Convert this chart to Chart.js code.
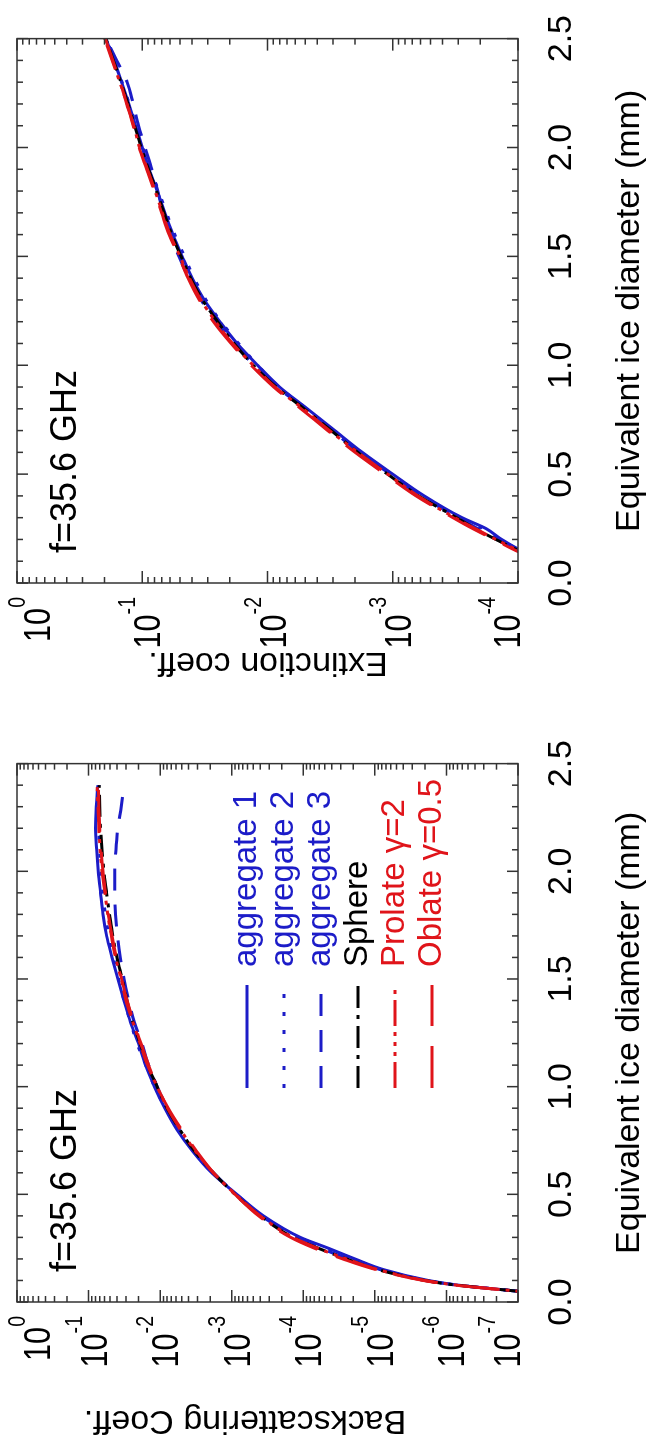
<!DOCTYPE html>
<html>
<head>
<meta charset="utf-8">
<script src="https://cdn.jsdelivr.net/npm/chart.js@4.4.1/dist/chart.umd.min.js"></script>
<style>
html, body { margin:0; padding:0; overflow:hidden; background:#fff; width:654px; height:1449px; }
#fig { position:absolute; left:0; top:1449px; width:1449px; height:654px; transform-origin:0 0; transform:rotate(-90deg); }
#fig canvas { position:absolute; top:0; }
#c1 { left:0; }
#c2 { left:724px; }
</style>
</head>
<body>
<div id="fig">
<canvas id="c1" width="724" height="654"></canvas>
<canvas id="c2" width="725" height="654"></canvas>
</div>
<script>
// diameters (mm)
const backD = [0.03, 0.05, 0.08, 0.1, 0.15, 0.2, 0.25, 0.3, 0.4, 0.5, 0.6, 0.7, 0.8, 0.9, 1.0, 1.1, 1.2, 1.3, 1.4, 1.5, 1.6, 1.7, 1.8, 1.9, 2.0, 2.1, 2.2, 2.3, 2.4];
const extD = [0.1, 0.15, 0.2, 0.25, 0.3, 0.4, 0.5, 0.6, 0.7, 0.8, 0.9, 1.0, 1.1, 1.2, 1.3, 1.4, 1.5, 1.6, 1.7, 1.8, 1.9, 2.0, 2.1, 2.2, 2.3, 2.4, 2.5];

// backscattering coeff.
const backAgg1 = [2.5e-8, 1.0e-7, 7.5e-7, 1.8e-6, 7.5e-6, 1.9e-5, 4.5e-5, 1.1e-4, 3.6e-4, 8.5e-4, 1.9e-3, 3.5e-3, 5.8e-3, 8.6e-3, 1.2e-2, 1.6e-2, 2.0e-2, 2.6e-2, 3.2e-2, 3.9e-2, 4.7e-2, 5.6e-2, 6.3e-2, 6.8e-2, 7.3e-2, 7.7e-2, 8.0e-2, 7.8e-2, 7.4e-2];
const backAgg2 = [2.5e-8, 1.0e-7, 7.8e-7, 1.9e-6, 8.0e-6, 2.2e-5, 5.5e-5, 1.25e-4, 3.8e-4, 8.7e-4, 1.85e-3, 3.4e-3, 5.6e-3, 8.4e-3, 1.2e-2, 1.6e-2, 2.1e-2, 2.6e-2, 3.2e-2, 3.8e-2, 4.5e-2, 5.2e-2, 5.8e-2, 6.3e-2, 6.7e-2, 7.0e-2, 7.2e-2, 7.2e-2, 7.1e-2];
const backAgg3 = [2.5e-8, 1.0e-7, 7.8e-7, 1.9e-6, 8.3e-6, 2.3e-5, 5.8e-5, 1.3e-4, 3.8e-4, 8.6e-4, 1.8e-3, 3.3e-3, 5.4e-3, 8.0e-3, 1.1e-2, 1.45e-2, 1.8e-2, 2.3e-2, 2.75e-2, 3.2e-2, 3.6e-2, 3.95e-2, 4.2e-2, 4.3e-2, 4.3e-2, 4.15e-2, 3.9e-2, 3.5e-2, 3.2e-2];
const backSphere = [2.5e-8, 1.0e-7, 8.0e-7, 2.0e-6, 9.0e-6, 2.5e-5, 6.2e-5, 1.4e-4, 4.0e-4, 9.0e-4, 1.8e-3, 3.3e-3, 5.3e-3, 8.0e-3, 1.1e-2, 1.5e-2, 1.9e-2, 2.4e-2, 2.9e-2, 3.4e-2, 4.0e-2, 4.6e-2, 5.1e-2, 5.6e-2, 6.1e-2, 6.5e-2, 6.8e-2, 7.0e-2, 7.1e-2];
const backProlate = [2.5e-8, 1.0e-7, 7.9e-7, 2.0e-6, 8.9e-6, 2.5e-5, 6.3e-5, 1.4e-4, 4.0e-4, 8.9e-4, 1.8e-3, 3.2e-3, 5.2e-3, 7.9e-3, 1.1e-2, 1.5e-2, 1.9e-2, 2.4e-2, 3.0e-2, 3.5e-2, 4.2e-2, 4.8e-2, 5.4e-2, 5.9e-2, 6.5e-2, 6.9e-2, 7.2e-2, 7.4e-2, 7.6e-2];
const backOblate = [2.6e-8, 1.05e-7, 8.2e-7, 2.1e-6, 9.5e-6, 2.8e-5, 7.0e-5, 1.5e-4, 4.2e-4, 9.0e-4, 1.8e-3, 3.1e-3, 5.0e-3, 7.7e-3, 1.1e-2, 1.45e-2, 1.85e-2, 2.35e-2, 2.9e-2, 3.45e-2, 4.1e-2, 4.7e-2, 5.3e-2, 5.8e-2, 6.3e-2, 6.7e-2, 7.0e-2, 7.2e-2, 7.3e-2];

// extinction coeff.
const extAgg1 = [6.0e-5, 9.5e-5, 1.35e-4, 1.8e-4, 2.8e-4, 5.6e-4, 1.0e-3, 1.75e-3, 2.9e-3, 4.8e-3, 8.0e-3, 1.2e-2, 1.75e-2, 2.4e-2, 3.2e-2, 4.0e-2, 4.8e-2, 5.7e-2, 6.6e-2, 7.6e-2, 8.8e-2, 1.0e-1, 1.13e-1, 1.28e-1, 1.46e-1, 1.68e-1, 1.95e-1];
const extAgg2 = [6.0e-5, 9.6e-5, 1.4e-4, 1.9e-4, 2.9e-4, 5.8e-4, 1.02e-3, 1.8e-3, 3.0e-3, 4.9e-3, 8.1e-3, 1.2e-2, 1.7e-2, 2.35e-2, 3.1e-2, 3.85e-2, 4.6e-2, 5.5e-2, 6.4e-2, 7.4e-2, 8.6e-2, 9.9e-2, 1.12e-1, 1.27e-1, 1.45e-1, 1.67e-1, 1.93e-1];
const extAgg3 = [6.1e-5, 9.8e-5, 1.45e-4, 2.1e-4, 3.0e-4, 6.0e-4, 1.05e-3, 1.85e-3, 3.05e-3, 5.0e-3, 8.4e-3, 1.28e-2, 1.85e-2, 2.55e-2, 3.4e-2, 4.25e-2, 5.1e-2, 6.0e-2, 6.8e-2, 7.5e-2, 8.4e-2, 9.5e-2, 1.07e-1, 1.18e-1, 1.32e-1, 1.6e-1, 1.95e-1];
const extSphere = [6.3e-5, 1.0e-4, 1.5e-4, 2.2e-4, 3.1e-4, 6.2e-4, 1.1e-3, 1.9e-3, 3.1e-3, 5.1e-3, 8.5e-3, 1.3e-2, 1.85e-2, 2.5e-2, 3.3e-2, 4.1e-2, 4.9e-2, 5.8e-2, 6.7e-2, 7.7e-2, 8.9e-2, 1.02e-1, 1.15e-1, 1.3e-1, 1.48e-1, 1.7e-1, 1.95e-1];
const extProlate = [6.3e-5, 1.0e-4, 1.5e-4, 2.2e-4, 3.2e-4, 6.3e-4, 1.1e-3, 1.9e-3, 3.2e-3, 5.2e-3, 8.7e-3, 1.3e-2, 1.9e-2, 2.6e-2, 3.4e-2, 4.2e-2, 5.0e-2, 6.0e-2, 6.9e-2, 7.9e-2, 9.1e-2, 1.05e-1, 1.17e-1, 1.32e-1, 1.51e-1, 1.74e-1, 2.0e-1];
const extOblate = [6.5e-5, 1.05e-4, 1.55e-4, 2.3e-4, 3.3e-4, 6.5e-4, 1.15e-3, 2.0e-3, 3.3e-3, 5.4e-3, 8.9e-3, 1.35e-2, 1.95e-2, 2.7e-2, 3.5e-2, 4.3e-2, 5.1e-2, 6.1e-2, 7.0e-2, 8.0e-2, 9.2e-2, 1.06e-1, 1.18e-1, 1.33e-1, 1.5e-1, 1.72e-1, 1.97e-1];

// tick labels
const xTicks = [0, 0.5, 1.0, 1.5, 2.0, 2.5];
const backExps = [0, -1, -2, -3, -4, -5, -6, -7];
const extExps = [0, -1, -2, -3, -4];

const names = ['aggregate 1', 'aggregate 2', 'aggregate 3', 'Sphere', 'Prolate γ=2', 'Oblate γ=0.5'];

const BLUE = '#1c1cc8', RED = '#e0141a', BLACK = '#000';
const styles = [
  { color: BLUE, dash: [] },
  { color: BLUE, dash: [4, 14] },
  { color: BLUE, dash: [22, 14] },
  { color: BLACK, dash: [22, 7, 4, 7] },
  { color: RED, dash: [26, 6, 4, 6, 4, 6, 4, 6] },
  { color: RED, dash: [42, 20] }
];

const FONT = "'Liberation Sans', Arial, sans-serif";
Chart.defaults.font.family = FONT;
Chart.defaults.color = '#000';

function pts(xs, ys) { return xs.map((x, i) => ({ x: x, y: ys[i] })); }

function makeSets(xs, series) {
  // red drawn on top
  const order = [4, 5, 3, 0, 1, 2];
  return order.map(i => ({
    label: names[i],
    data: pts(xs, series[i]),
    borderColor: styles[i].color,
    borderDash: styles[i].dash,
    borderWidth: 3,
    pointRadius: 0,
    fill: false,
    cubicInterpolationMode: 'monotone'
  }));
}

const framePlugin = {
  id: 'frame',
  afterDatasetsDraw(chart, args, opts) {
    const { ctx, chartArea: a, scales: { x, y } } = chart;
    ctx.save();
    ctx.strokeStyle = '#333';
    ctx.lineWidth = 1.5;
    ctx.strokeRect(a.left, a.top, a.right - a.left, a.bottom - a.top);
    ctx.beginPath();
    for (let i = 0; i <= 25; i++) {
      const px = x.getPixelForValue(i / 10);
      const len = i % 5 === 0 ? 11 : 6;
      ctx.moveTo(px, a.bottom); ctx.lineTo(px, a.bottom - len);
      ctx.moveTo(px, a.top); ctx.lineTo(px, a.top + len);
    }
    const lo = opts.exps[opts.exps.length - 1];
    for (let e = lo; e <= 0; e++) {
      for (let m = 1; m < 10; m++) {
        if (e === 0 && m > 1) break;
        const py = y.getPixelForValue(m * Math.pow(10, e));
        const len = m === 1 ? 12 : 6;
        ctx.moveTo(a.left, py); ctx.lineTo(a.left + len, py);
        ctx.moveTo(a.right, py); ctx.lineTo(a.right - len, py);
      }
    }
    ctx.stroke();

    // decade labels 10^n, narrow digits
    ctx.fillStyle = '#000';
    const cond = (txt, xr, yb, size) => {
      ctx.save();
      ctx.font = size + 'px ' + FONT;
      ctx.textAlign = 'right';
      ctx.textBaseline = 'alphabetic';
      ctx.translate(xr, yb);
      ctx.scale(0.85, 1);
      ctx.fillText(txt, 0, 0);
      const w = ctx.measureText(txt).width * 0.85;
      ctx.restore();
      return w;
    };
    const R = a.left - 14;
    opts.exps.forEach(e => {
      const py = y.getPixelForValue(Math.pow(10, e));
      const base = Math.min(Math.max(py + 18, a.top + 33), a.bottom + 2);
      const sup = e === 0 ? '0' : '-' + (-e);
      const sw = cond(sup, R, base - 25, 23);
      cond('10', R - sw, base, 36);
    });

    // y title
    ctx.save();
    ctx.translate(opts.titleX, opts.titleY);
    ctx.rotate(-Math.PI / 2);
    ctx.font = '34px ' + FONT;
    ctx.textAlign = 'center';
    ctx.textBaseline = 'middle';
    ctx.fillText(opts.title, 0, 0);
    ctx.restore();

    // frequency note
    ctx.textAlign = 'left';
    ctx.textBaseline = 'alphabetic';
    ctx.font = '36px ' + FONT;
    ctx.fillText('f=35.6 GHz', a.left + 30, a.top + 59);

    if (opts.legend) {
      names.forEach((n, i) => {
        const ly = a.top + 230 + i * 37;
        ctx.beginPath();
        ctx.strokeStyle = styles[i].color;
        ctx.lineWidth = 3;
        ctx.setLineDash(styles[i].dash);
        ctx.moveTo(a.left + 214, ly);
        ctx.lineTo(a.left + 317, ly);
        ctx.stroke();
        ctx.setLineDash([]);
        ctx.fillStyle = styles[i].color;
        ctx.font = '33px ' + FONT;
        ctx.textBaseline = 'middle';
        ctx.fillText(n, a.left + 335, ly);
      });
    }
    ctx.restore();
  }
};

function makeChart(id, xs, series, yMin, yTitle, yWidth, titleX, titleY, rightPad, exps, legend) {
  return new Chart(document.getElementById(id), {
    type: 'line',
    data: { datasets: makeSets(xs, series) },
    plugins: [framePlugin],
    options: {
      responsive: false,
      animation: false,
      layout: { padding: { top: 17, right: rightPad, left: 0, bottom: 0 } },
      plugins: {
        legend: { display: false },
        tooltip: { enabled: false },
        frame: { exps: exps, legend: legend, title: yTitle, titleX: titleX, titleY: titleY }
      },
      scales: {
        x: {
          type: 'linear', min: 0, max: 2.5,
          afterBuildTicks: s => { s.ticks = xTicks.map(v => ({ value: v })); },
          afterFit: s => { s.height = 136; },
          grid: { display: false },
          border: { display: false },
          ticks: { autoSkip: false, maxRotation: 0, padding: 15, font: { size: 34 }, color: '#000', callback: v => v.toFixed(1) },
          title: { display: true, text: 'Equivalent ice diameter (mm)', font: { size: 34 }, color: '#000', padding: { top: 0, bottom: 4 } }
        },
        y: {
          type: 'logarithmic', min: yMin, max: 1,
          afterFit: s => { s.width = yWidth; },
          grid: { display: false },
          border: { display: false },
          ticks: { display: false }
        }
      }
    }
  });
}

makeChart('c1', backD, [backAgg1, backAgg2, backAgg3, backSphere, backProlate, backOblate], 1e-7, 'Backscattering Coeff.', 147, 29, 245, 22, backExps, true);
makeChart('c2', extD, [extAgg1, extAgg2, extAgg3, extSphere, extProlate, extOblate], 1e-4, 'Extinction coeff.', 142, 63, 268, 28, extExps, false);
</script>
</body>
</html>
